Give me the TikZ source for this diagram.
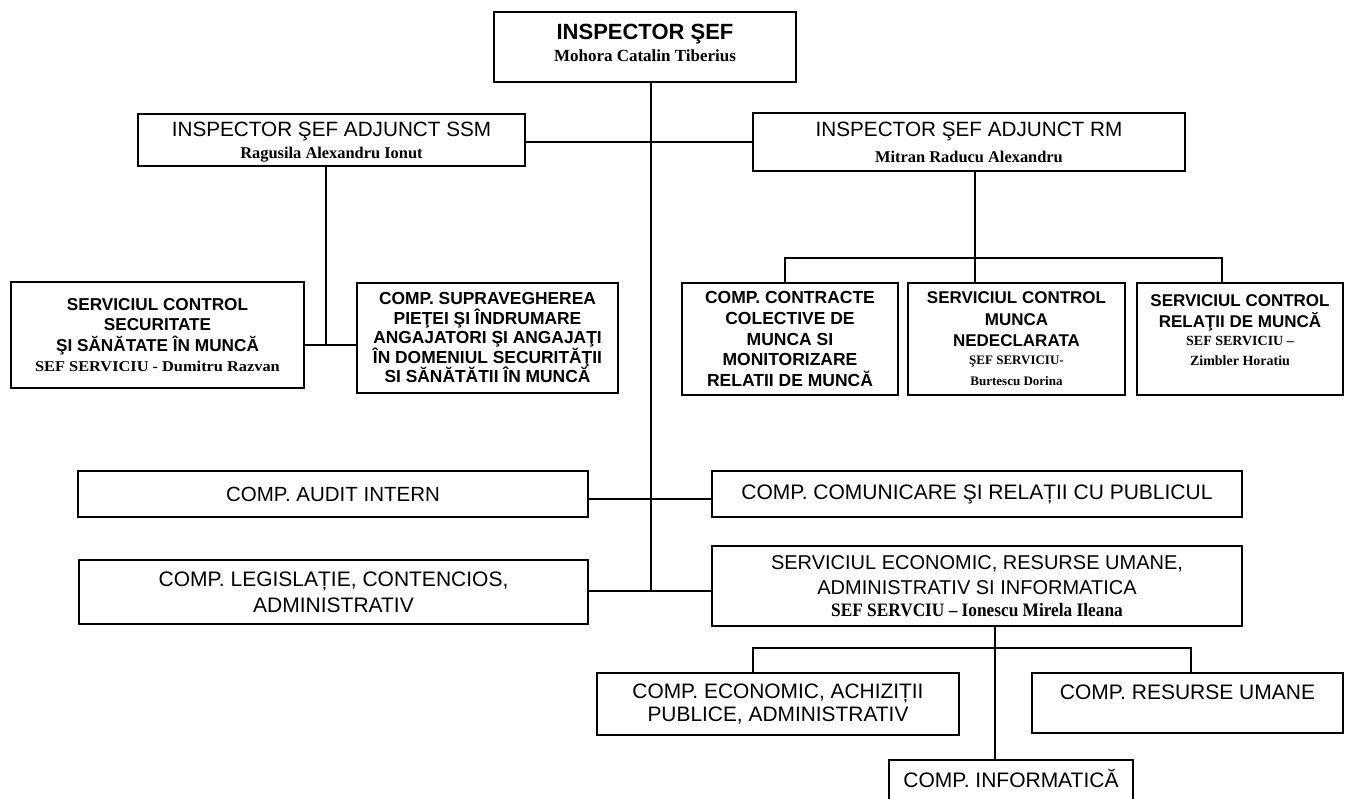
\documentclass[tikz,border=0pt]{standalone}
\usepackage{fontspec}
\setmainfont{Liberation Serif}
\newfontfamily\arial{Liberation Sans}
\newfontfamily\tnarrow[FakeStretch=0.91]{Liberation Serif}
\newfontfamily\twide[FakeStretch=1.09]{Liberation Serif}
\newcommand{\fs}[2]{\fontsize{#1}{#2}\selectfont}
\begin{document}
\lineskiplimit=-100pt
\lineskip=0pt
\begin{tikzpicture}[x=1pt,y=-1pt,
  box/.style={draw, line width=1.4pt, align=center, inner sep=0pt},
  tx/.style={align=center, inner sep=0pt},
  conn/.style={line width=1.5pt}]
\useasboundingbox (0,0) rectangle (1345,799);
% top
\node[box, minimum width=302pt, minimum height=70pt] (top) at (645,47) {};
\node[tx, font=\arial\bfseries\fs{22}{22}] (topt) at (645,42.5)
  {INSPECTOR ŞEF\\ \rmfamily\bfseries\fs{17}{22}Mohora Catalin Tiberius};
% deputies
\node[box, minimum width=387pt, minimum height=52pt] (ssm) at (331.5,140) {};
\node[tx, font=\arial\fs{20.7}{20.5}] (ssmt) at (331.5,142)
  {INSPECTOR ŞEF ADJUNCT SSM\\[2pt] \rmfamily\bfseries\fs{16.4}{18}Ragusila Alexandru Ionut};
\node[box, minimum width=432pt, minimum height=58pt, font=\arial\fs{20.7}{23}] (rm) at (969,142)
  {INSPECTOR ŞEF ADJUNCT RM\\[3pt] \rmfamily\bfseries\fs{16.4}{18}Mitran Raducu Alexandru};
% row 3
\node[box, minimum width=293pt, minimum height=106pt, font=\arial\bfseries\fs{17.2}{20.5}] (sc) at (157.5,335)
  {SERVICIUL CONTROL\\ SECURITATE\\ ŞI SĂNĂTATE ÎN MUNCĂ\\ \twide\bfseries\fs{15}{20}SEF SERVICIU - Dumitru Razvan};
\node[box, minimum width=261pt, minimum height=110pt, font=\arial\bfseries\fs{17.4}{19.5}] (cs) at (487.5,338)
  {COMP. SUPRAVEGHEREA\\ PIEŢEI ŞI ÎNDRUMARE\\ ANGAJATORI ŞI ANGAJAŢI\\ ÎN DOMENIUL SECURITĂŢII\\ SI SĂNĂTĂTII ÎN MUNCĂ};
\node[box, minimum width=216pt, minimum height=112pt, font=\arial\bfseries\fs{17.5}{20.7}] (cc) at (790,339)
  {COMP. CONTRACTE\\ COLECTIVE DE\\ MUNCA SI\\ MONITORIZARE\\ RELATII DE MUNCĂ};
\node[box, minimum width=217pt, minimum height=112pt, font=\arial\bfseries\fs{17}{21.3}] (nd) at (1016.5,339)
  {SERVICIUL CONTROL\\ MUNCA\\ NEDECLARATA\\[-3pt] \rmfamily\bfseries\fs{13}{21}ŞEF SERVICIU-\\ \rmfamily\bfseries\fs{13}{21}Burtescu Dorina};
\node[box, minimum width=206pt, minimum height=112pt] (rl) at (1240,339) {};
\node[tx, font=\arial\bfseries\fs{17}{21}] (rlt) at (1240,330)
  {SERVICIUL CONTROL\\ RELAŢII DE MUNCĂ\\[-3pt] \rmfamily\bfseries\fs{14}{21}SEF SERVICIU –\\[-1pt] \rmfamily\bfseries\fs{14}{21}Zimbler Horatiu};
% row 4/5
\node[box, minimum width=510pt, minimum height=46pt, font=\arial\fs{20.5}{22}] (au) at (333,494)
  {COMP. AUDIT INTERN};
\node[box, minimum width=530pt, minimum height=46pt, font=\arial\fs{21}{22}] (co) at (977,494)
  {COMP. COMUNICARE ŞI RELAȚII CU PUBLICUL};
\node[box, minimum width=509pt, minimum height=64pt, font=\arial\fs{21}{26}] (le) at (333.5,592)
  {COMP. LEGISLAȚIE, CONTENCIOS,\\ ADMINISTRATIV};
\node[box, minimum width=530pt, minimum height=80pt, font=\arial\fs{20}{25}] (se) at (977,586)
  {SERVICIUL ECONOMIC, RESURSE UMANE,\\ ADMINISTRATIV SI INFORMATICA\\[-3pt] \tnarrow\bfseries\fs{19}{22}SEF SERVCIU – Ionescu Mirela Ileana};
% bottom
\node[box, minimum width=362pt, minimum height=62pt, font=\arial\fs{20.9}{23}] (ea) at (778,704)
  {COMP. ECONOMIC, ACHIZIȚII\\ PUBLICE, ADMINISTRATIV};
\node[box, minimum width=311pt, minimum height=60pt] (ru) at (1187.5,703) {};
\node[tx, font=\arial\fs{21}{22}] (rut) at (1187.5,692) {COMP. RESURSE UMANE};
\node[box, minimum width=244pt, minimum height=42pt] (in) at (1011,781) {};
\node[tx, font=\arial\fs{21}{22}] (int) at (1011,778) {COMP. INFORMATICĂ};
% connectors
\coordinate (sp) at (651,591);
\coordinate (jr) at (651,142);
\coordinate (js) at (326,345);
\coordinate (br) at (975,258);
\coordinate (bb) at (995,648);
\draw[conn] (top.south -| sp) -- (sp);
\draw[conn] (ssm.east |- jr) -- (rm.west |- jr);
\draw[conn] (ssm.south -| js) -- (js);
\draw[conn] (sc.east |- js) -- (cs.west |- js);
\draw[conn] (rm.south -| br) -- (br);
\draw[conn] (cc.north -| 785,0) |- (br) -| (rl.north -| 1222,0);
\draw[conn] (br) -- (nd.north -| br);
\draw[conn] (au.east |- 0,499) -- (co.west |- 0,499);
\draw[conn] (le.east |- sp) -- (se.west |- sp);
\draw[conn] (se.south -| bb) -- (in.north -| bb);
\draw[conn] (ea.north -| 753,0) |- (bb) -| (ru.north -| 1191,0);
\end{tikzpicture}
\end{document}
